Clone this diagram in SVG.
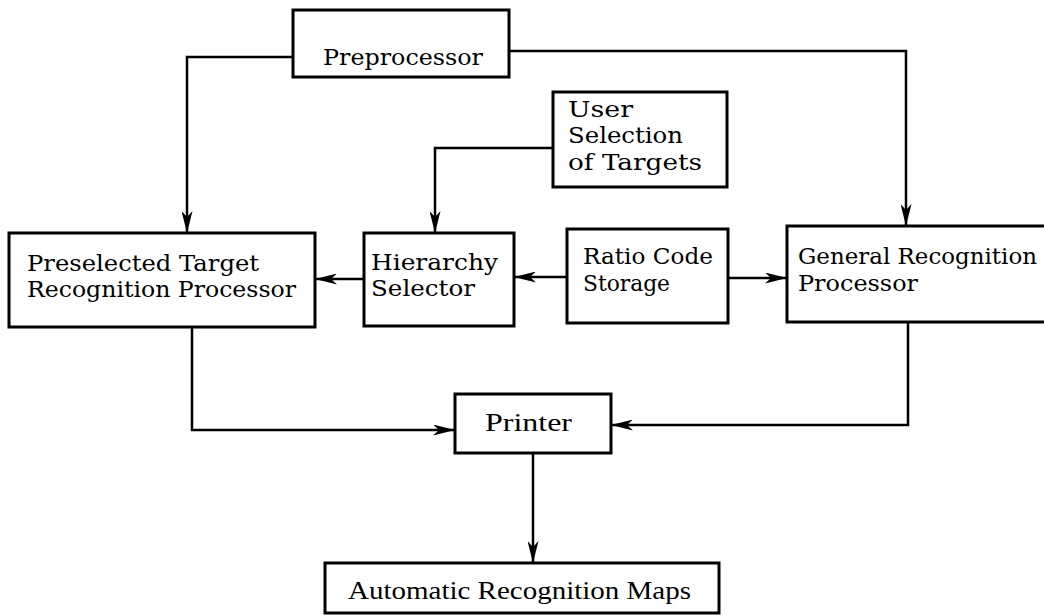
<svg xmlns="http://www.w3.org/2000/svg" width="1044" height="615" viewBox="0 0 1044 615">
<style>
.box{fill:#fff;stroke:#000;stroke-width:3}
.ln{fill:none;stroke:#000;stroke-width:2.5}
text{font-family:"DejaVu Serif","Liberation Serif",serif;font-size:23px;fill:#000}
.cond{font-family:"Liberation Serif","DejaVu Serif",serif;font-size:25px}
</style>
<defs>
<marker id="ah" viewBox="0 0 22 11" refX="22" refY="5.5" markerWidth="22" markerHeight="11" markerUnits="userSpaceOnUse" orient="auto">
<path d="M0,0 L22,5.5 L0,11 L6,5.5 Z" fill="#000"/>
</marker>
</defs>
<rect width="1044" height="615" fill="#fff"/>
<g id="connectors">
<path class="ln" d="M293,57 H187 V233" marker-end="url(#ah)"/>
<path class="ln" d="M509,51 H906 V226" marker-end="url(#ah)"/>
<path class="ln" d="M553,148 H435 V233" marker-end="url(#ah)"/>
<path class="ln" d="M364,279 H315" marker-end="url(#ah)"/>
<path class="ln" d="M567,277 H514" marker-end="url(#ah)"/>
<path class="ln" d="M728,278 H787" marker-end="url(#ah)"/>
<path class="ln" d="M192,327 V430 H455" marker-end="url(#ah)"/>
<path class="ln" d="M908,322 V425 H611" marker-end="url(#ah)"/>
<path class="ln" d="M533,453 V563" marker-end="url(#ah)"/>
</g>
<g id="preprocessor">
<rect class="box" x="293" y="10" width="216" height="67"/>
<text x="323" y="65" textLength="160" lengthAdjust="spacingAndGlyphs">Preprocessor</text>
</g>
<g id="user-selection">
<rect class="box" x="553" y="92" width="174" height="95"/>
<text x="568" y="117" textLength="65" lengthAdjust="spacingAndGlyphs">User</text>
<text x="568" y="143" textLength="115" lengthAdjust="spacingAndGlyphs">Selection</text>
<text x="568" y="170" textLength="134" lengthAdjust="spacingAndGlyphs">of Targets</text>
</g>
<g id="preselected">
<rect class="box" x="9" y="233" width="306" height="94"/>
<text x="27" y="271" textLength="232" lengthAdjust="spacingAndGlyphs">Preselected Target</text>
<text x="27" y="297" textLength="269" lengthAdjust="spacingAndGlyphs">Recognition Processor</text>
</g>
<g id="hierarchy">
<rect class="box" x="364" y="233" width="150" height="93"/>
<text x="371" y="270" textLength="127" lengthAdjust="spacingAndGlyphs">Hierarchy</text>
<text x="371" y="296" textLength="104" lengthAdjust="spacingAndGlyphs">Selector</text>
</g>
<g id="ratio-code">
<rect class="box" x="567" y="229" width="161" height="94"/>
<text x="583" y="264" textLength="130" lengthAdjust="spacingAndGlyphs">Ratio Code</text>
<text x="583" y="291" textLength="87" lengthAdjust="spacingAndGlyphs">Storage</text>
</g>
<g id="general">
<rect class="box" x="787" y="226" width="270" height="96"/>
<text x="798" y="264" textLength="239" lengthAdjust="spacingAndGlyphs">General Recognition</text>
<text x="798" y="291" textLength="120" lengthAdjust="spacingAndGlyphs">Processor</text>
</g>
<g id="printer">
<rect class="box" x="455" y="394" width="156" height="59"/>
<text class="cond" x="485" y="431" textLength="87" lengthAdjust="spacingAndGlyphs">Printer</text>
</g>
<g id="maps">
<rect class="box" x="325" y="563" width="394" height="50"/>
<text class="cond" x="348" y="599" textLength="343" lengthAdjust="spacingAndGlyphs">Automatic Recognition Maps</text>
</g>
</svg>
